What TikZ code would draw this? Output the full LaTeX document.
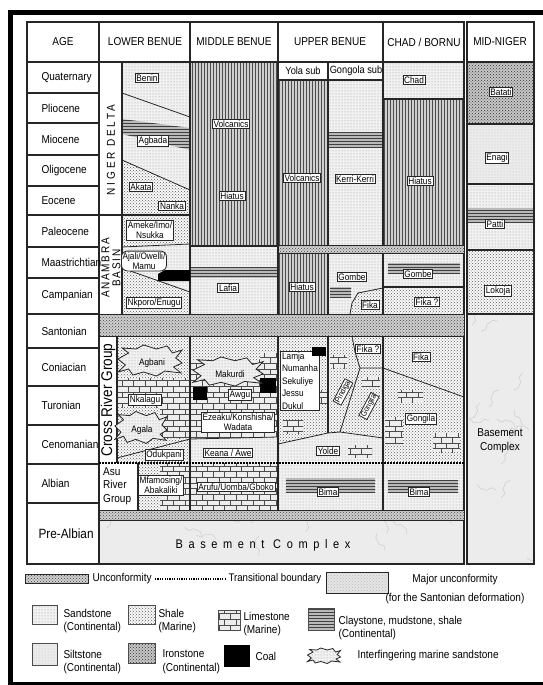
\documentclass[tikz,border=0pt]{standalone}
\usepackage{fontspec}
\setmainfont{Liberation Sans}[FakeStretch=0.88]
\usetikzlibrary{patterns}

\newcommand\agefont{\fontsize{11.4}{13.5}\selectfont}
\newcommand\lblfont{\fontsize{9.4}{10.5}\selectfont}

\begin{document}
\begin{tikzpicture}[x=1pt,y=-1pt,
    rule/.style={draw=black!85,line width=1.1pt},
    bound/.style={draw=black!85,line width=0.8pt},
    sand/.style={preaction={fill=gray!11},pattern=dots,pattern color=gray!85},
    shale/.style={preaction={fill=gray!4},pattern=crosshatch dots,pattern color=black!65},
    lime/.style={preaction={fill=gray!14},pattern=bricks,pattern color=black!70},
    iron/.style={preaction={fill=gray!45},pattern=crosshatch dots,pattern color=black!80},
    silt/.style={preaction={fill=gray!16},pattern=dots,pattern color=gray!50},
    clay/.style={preaction={fill=gray!55},pattern=horizontal lines,pattern color=black!75},
    hiatus/.style={preaction={fill=gray!38},pattern=vertical lines,pattern color=gray!60!black},
    unconf/.style={preaction={fill=gray!38},pattern=crosshatch dots,pattern color=gray!55!black},
    major/.style={preaction={fill=gray!20},pattern=crosshatch dots,pattern color=gray!55},
    basement/.style={fill=gray!15},
    coal/.style={fill=black},
    trans/.style={line width=2.2pt,dash pattern=on 1.6pt off 1.4pt},
    lbl/.style={draw=black!85,line width=0.8pt,fill=white,inner sep=1.2pt,font=\lblfont},
    plain/.style={inner sep=0pt,font=\lblfont},
    age/.style={anchor=west,font=\agefont},
    head/.style={font=\agefont},
    legtext/.style={anchor=west,align=left,font=\agefont},
    tongue/.pic={\draw[sand,draw=black!85,line width=0.8pt] (-30,-2) -- (-20,-8) -- (-26,-13)
      -- (-13,-12) -- (-6,-16) -- (6,-12) -- (16,-15) -- (21,-8) -- (30,-11) -- (24,-3)
      -- (30,2) -- (22,6) -- (29,12) -- (14,10) -- (6,15) -- (-6,11) -- (-16,14)
      -- (-20,8) -- (-30,11) -- (-23,4) -- cycle;}
  ]
\useasboundingbox (0,0) rectangle (543,685);
\fill[white] (0,0) rectangle (543,685);
\draw[line width=5pt] (546,13) -- (10,13) -- (10,684) -- (546,684);

% lower benue, niger delta and anambra
\fill[sand] (122,62) -- (190,62) -- (190,117) -- (122,93) -- cycle;
\fill[sand] (122,93) -- (190,117) -- (190,190) -- (122,160) -- cycle;
\fill[clay] (122,119) -- (190,128) -- (190,150) -- (122,134) -- cycle;
\fill[shale] (122,160) -- (190,190) -- (190,215) -- (122,215) -- cycle;
\fill[shale] (122,215) rectangle (190,247);
\fill[sand] (122,247) -- (190,244) -- (190,292) -- (122,268) -- cycle;
\fill[shale] (122,268) -- (190,292) -- (190,314) -- (122,314) -- cycle;

% middle benue
\fill[hiatus] (190,62) rectangle (278,246);
\fill[sand] (190,246) rectangle (278,314);
\fill[clay] (190,267) rectangle (278,278);

% upper benue
\fill[hiatus] (278,80) rectangle (328,245);
\fill[sand] (328,80) rectangle (383,245);
\fill[clay] (328,132) rectangle (383,148);
\fill[hiatus] (278,253) rectangle (328,314);
\fill[sand] (328,253) rectangle (383,314);
\fill[shale] (350,314) -- (352,303) -- (358,293) -- (383,288) -- (383,314) -- cycle;
\fill[clay] (330,287) rectangle (351,298);

% chad / bornu
\fill[sand] (383,62) rectangle (464,99);
\fill[hiatus] (383,99) rectangle (464,245);
\fill[sand] (383,253) rectangle (464,287);
\fill[clay] (388,263) rectangle (460,273);
\fill[shale] (383,287) rectangle (464,314);

% mid-niger
\fill[iron] (467,62) rectangle (534,124);
\fill[silt] (467,124) rectangle (534,184);
\fill[sand] (467,184) rectangle (534,250);
\fill[clay] (467,208) rectangle (534,222);
\fill[shale] (467,250) rectangle (534,314);
\fill[basement] (467,314) rectangle (534,564);

% cretaceous below the santonian
\fill[shale] (117,336) rectangle (464,463);
\fill[lime] (117,378) rectangle (190,407);
\fill[lime] (160,407) rectangle (190,438);
\fill[lime] (190,360) rectangle (278,437);
\fill[sand] (190,439) -- (278,437) -- (278,463) -- (190,463) -- cycle;
\fill[lime] (260,353) rectangle (278,363);
\fill[lime] (283,420) rectangle (303,433);
\fill[lime] (310,390) rectangle (327,403);
\fill[lime] (330,355) rectangle (347,368);
\fill[lime] (362,377) rectangle (380,386);
\fill[sand] (278,444) -- (328,433) -- (340,432) -- (383,438) -- (383,463) -- (278,463) -- cycle;
\fill[lime] (348,445) rectangle (372,457);
\fill[lime] (398,390) rectangle (423,402);
\fill[lime] (385,417) rectangle (403,443);
\fill[lime] (433,433) rectangle (460,452);
\fill[lime] (138,463) rectangle (278,510);
\fill[shale] (138,463) rectangle (160,510);
\fill[sand] (278,463) rectangle (464,510);
\fill[clay] (286,478) rectangle (375,493);
\fill[clay] (388,480) rectangle (458,493);
\fill[basement] (99,520) rectangle (464,564);

% marble of the basement
\pgfmathsetseed{11}
\begin{scope}
  \clip (99,520) rectangle (464,564) (467,314) rectangle (534,564);
  \foreach \i in {1,...,110}{
    \pgfmathsetmacro\xa{99+435*rnd}
    \pgfmathsetmacro\ya{314+250*rnd}
    \pgfmathsetmacro\ang{360*rnd}
    \draw[gray!40,line width=0.5pt,rotate around={\ang:(\xa,\ya)}]
      (\xa,\ya) -- ++(5,2) -- ++(4,-3) -- ++(7,1) -- ++(3,4);
  }
\end{scope}

% table lines
\draw[rule] (27,22) rectangle (464,564);
\draw[rule] (467,22) rectangle (534,564);
\draw[rule] (27,62) -- (464,62) (467,62) -- (534,62);
\draw[rule] (99,22) -- (99,564) (190,22) -- (190,510) (278,22) -- (278,510) (383,22) -- (383,510);
\foreach \y in {93,123,155,186,215,247,278,314,348,386,425,464,503}
  \draw[rule] (27,\y) -- (99,\y);
\foreach \y in {124,184,250,314}
  \draw[rule] (467,\y) -- (534,\y);
\draw[rule] (99,215) -- (190,215) (122,62) -- (122,314) (117,336) -- (117,463) (138,463) -- (138,510);
\draw[rule] (278,80) -- (383,80) (328,62) -- (328,245) (328,253) -- (328,314) (328,336) -- (328,433);
\draw[rule] (383,99) -- (464,99) (190,246) -- (278,246) (383,287) -- (464,287);
\draw[bound] (122,93) -- (190,117) (122,160) -- (190,190) (122,247) -- (190,244) (122,268) -- (190,292);
\draw[bound] (350,314) -- (352,303) -- (358,293) -- (383,288);
\draw[bound] (117,458) -- (190,439) -- (278,437);
\draw[bound] (278,444) -- (328,433) -- (340,432) -- (383,438);
\draw[bound] (352,336) -- (355,352) -- (360,368) -- (383,368) (360,368) -- (340,432);
\draw[bound] (383,368) -- (464,397);
\draw[trans] (99,463) -- (464,463);

% unconformities
\draw[unconf,draw=black!85,line width=1pt] (99,314) rectangle (464,336);
\draw[unconf,draw=black!85,line width=1pt] (278,245) rectangle (464,253);
\draw[unconf,draw=black!85,line width=1pt] (99,510) rectangle (464,520);

% coal
\fill[coal] (193,387) rectangle (207,400);
\fill[coal] (260,378) rectangle (276,393);

% headers and ages
\node[head] (hage) at (63,42) {AGE};
\node[head] (hlow) at (145,42) {LOWER BENUE};
\node[head] (hmid) at (234,42) {MIDDLE BENUE};
\node[head] (hup) at (330,42) {UPPER BENUE};
\node[head] (hchad) at (424,42) {CHAD / BORNU};
\node[head] (hniger) at (500,42) {MID-NIGER};
\node[plain,font=\fontsize{10.5}{12}\selectfont] (yola) at (303,71) {Yola sub};
\node[plain,font=\fontsize{10.5}{12}\selectfont] (gongola) at (356,71) {Gongola sub};
\foreach \y/\t [count=\i] in {77.5/Quaternary,108/Pliocene,139/Miocene,170.5/Oligocene,
    200.5/Eocene,231/Paleocene,262.5/Maastrichtian,296/Campanian,331/Santonian,
    367/Coniacian,405.5/Turonian,444.5/Cenomanian,483.5/Albian}
  \node[age] (age\i) at (38,\y) {\t};
\node[age,font=\fontsize{13.4}{15}\selectfont] (prealb) at (35,533.5) {Pre-Albian};

\node[head,rotate=90] (ndelta) at (111,150) {\addfontfeature{LetterSpace=24}NIGER DELTA};
\node[head,rotate=90,align=center,font=\fontsize{11.4}{11}\selectfont] (anambra) at (111,268)
  {\addfontfeature{LetterSpace=15}ANAMBRA\\\addfontfeature{LetterSpace=15}BASIN};
\node[head,rotate=90,font=\fontsize{15.5}{17}\selectfont] (crossriver) at (108,400) {Cross River Group};
\node[legtext,font=\fontsize{11.4}{13.5}\selectfont,inner sep=0pt] (asu) at (103,486) {Asu\\River\\Group};

% lower benue
\node[lbl] (benin) at (147,78) {Benin};
\node[lbl] (agbada) at (153,141) {Agbada};
\node[lbl] (akata) at (141,187) {Akata};
\node[lbl] (nanka) at (172,206) {Nanka};
\node[lbl,align=center] (ameke) at (150,230) {Ameke/Imo/\\Nsukka};
\node[lbl,align=center,rounded corners=6pt] (ajali) at (144,261) {Ajali/Owelli/\\Mamu};
\fill[coal] (158,274) -- (165,270) -- (190,270) -- (190,281) -- (158,281) -- cycle;
\node[lbl] (nkporo) at (154,303) {Nkporo/Enugu};
\pic[xscale=1.07] (agbanishape) at (150,361) {tongue};
\node[plain] (agbani) at (152,363) {Agbani};
\node[lbl] (nkalagu) at (145,400) {Nkalagu};
\pic[xscale=0.87,yscale=1.03] (agalashape) at (141,428) {tongue};
\node[plain] (agala) at (142,430) {Agala};
\node[lbl] (odukpani) at (164,455) {Odukpani};
\node[lbl,align=center] (mfamosing) at (161,485) {Mfamosing/\\Abakaliki};

% middle benue
\node[lbl] (volc1) at (231,124) {Volcanics};
\node[lbl] (hiatus1) at (232,196) {Hiatus};
\node[lbl] (lafia) at (228,288) {Lafia};
\pic[xscale=1.17,yscale=0.94] (makurdishape) at (228,372) {tongue};
\node[plain] (makurdi) at (230,374) {Makurdi};
\node[lbl] (awgu) at (240,395) {Awgu};
\node[lbl,align=center] (ezeaku) at (238,422) {Ezeaku/Konshisha/\\Wadata};
\node[lbl] (keana) at (228,453) {Keana / Awe};
\node[lbl] (arufu) at (236,487) {Arufu/Uomba/Gboko};

% upper benue
\node[lbl] (volc2) at (302,178) {Volcanics};
\node[lbl] (kerri) at (355,179) {Kerri-Kerri};
\node[lbl] (hiatus2) at (302,287) {Hiatus};
\node[lbl] (gombe1) at (352,277) {Gombe};
\node[lbl] (fika1) at (370,305) {Fika};
\node[lbl,align=left] (yolastack) at (300,381) {Lamja\\[2pt]Numanha\\[2pt]Sekuliye\\[2pt]Jessu\\[2pt]Dukul};
\fill[coal] (312,347) rectangle (326,356);
\node[lbl] (fikaq1) at (368,349) {Fika ?};
\node[lbl,rotate=62,inner sep=0.8pt,font=\fontsize{8}{9}\selectfont] (pindiga) at (343,392) {Pindiga};
\node[lbl,rotate=62,inner sep=0.8pt,font=\fontsize{8}{9}\selectfont] (gongila1) at (369,406) {Gongila};
\node[lbl] (yolde) at (328,451) {Yolde};
\node[lbl] (bima1) at (328,492) {Bima};

% chad / bornu
\node[lbl] (chad) at (414,80) {Chad};
\node[lbl] (hiatus3) at (420,181) {Hiatus};
\node[lbl] (gombe2) at (418,274) {Gombe};
\node[lbl] (fikaq2) at (427,302) {Fika ?};
\node[lbl] (fika2) at (421,357) {Fika};
\node[lbl] (gongila2) at (421,419) {Gongila};
\node[lbl] (bima2) at (419,492) {Bima};

% mid-niger
\node[lbl] (batati) at (501,92) {Batati};
\node[lbl] (enagi) at (497,158) {Enagi};
\node[lbl] (patti) at (495,224) {Patti};
\node[lbl] (lokoja) at (498,291) {Lokoja};
\node[head,align=center] (basement2) at (500,441) {Basement\\Complex};
\node[head,font=\fontsize{12.5}{14}\selectfont] (basement1) at (263,545)
  {\addfontfeature{LetterSpace=45}Basement Complex};

% legend
\draw[unconf,draw=black!85,line width=0.8pt] (25,574) rectangle (88,583);
\node[legtext] (kunc) at (89,578.5) {Unconformity};
\draw[line width=1.6pt,dash pattern=on 1.2pt off 1.2pt] (155,579) -- (226,579);
\node[legtext,font=\fontsize{11}{13}\selectfont] (ktrans) at (225,578.5) {Transitional boundary};
\draw[major,draw=black!85,line width=0.8pt] (326,572) rectangle (388,593);
\node[head] (kmajor) at (455,580) {Major unconformity};
\node[head] (kmajor2) at (455,599) {(for the Santonian deformation)};

\draw[sand,draw=black!70,line width=0.8pt] (32,605) rectangle (57,624);
\node[legtext] (ksand) at (60,621) {Sandstone\\(Continental)};
\draw[shale,draw=black!70,line width=0.8pt] (128,605) rectangle (155,624);
\node[legtext] (kshale) at (155,621) {Shale\\(Marine)};
\draw[lime,draw=black!70,line width=0.8pt] (218,610) rectangle (240,630);
\node[legtext] (klime) at (240,624) {Limestone\\(Marine)};
\draw[clay,draw=black!70,line width=0.8pt] (308,608) rectangle (334,630);
\node[legtext] (kclay) at (335,628) {Claystone, mudstone, shale\\(Continental)};

\draw[silt,draw=black!70,line width=0.8pt] (32,643) rectangle (57,665);
\node[legtext] (ksilt) at (60,662) {Siltstone\\(Continental)};
\draw[iron,draw=black!70,line width=0.8pt] (128,643) rectangle (155,663);
\node[legtext] (kiron) at (159,662) {Ironstone\\(Continental)};
\fill[coal] (224,645) rectangle (250,667);
\node[legtext] (kcoal) at (252,656) {Coal};
\pic[xscale=0.55,yscale=0.5] (kfinger) at (324,656) {tongue};
\node[legtext] (kfingertext) at (354,656) {Interfingering marine sandstone};
\end{tikzpicture}
\end{document}
